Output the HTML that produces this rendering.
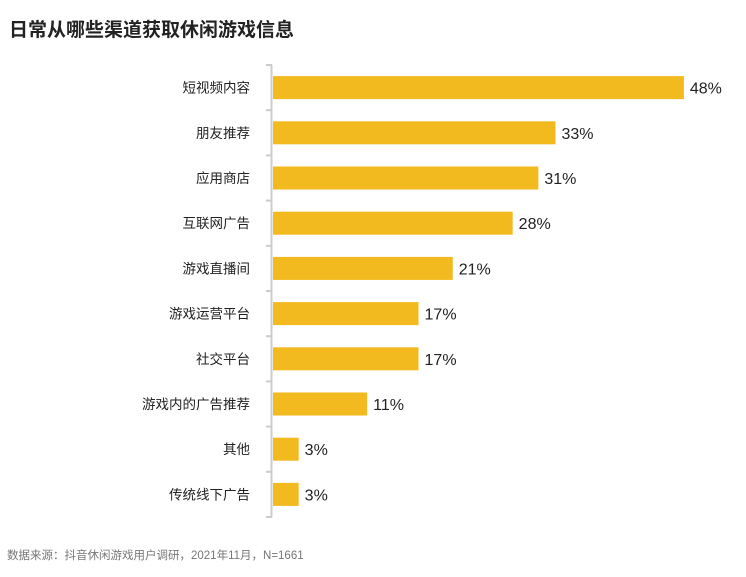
<!DOCTYPE html>
<html><head><meta charset="utf-8"><style>
body{margin:0;background:#fff;width:746px;height:572px;overflow:hidden;font-family:"Liberation Sans","Noto Sans CJK SC",sans-serif;}
</style></head><body>
<svg width="746" height="572" xmlns="http://www.w3.org/2000/svg">
<text x="9" y="36" font-size="19" font-weight="bold" fill="#222" font-family="Liberation Sans, Noto Sans CJK SC, sans-serif">日常从哪些渠道获取休闲游戏信息</text>
<g id="plot" font-family="Liberation Sans, Noto Sans CJK SC, sans-serif"></g>
<text x="7" y="559" font-size="11.5" fill="#777" font-family="Liberation Sans, Noto Sans CJK SC, sans-serif">数据来源：抖音休闲游戏用户调研，2021年11月，N=1661</text>
</svg>
<script>
const categories=["短视频内容","朋友推荐","应用商店","互联网广告","游戏直播间","游戏运营平台","社交平台","游戏内的广告推荐","其他","传统线下广告"];
const values=[48,33,31,28,21,17,17,11,3,3];
const NS="http://www.w3.org/2000/svg";
const plotG=document.getElementById('plot');
const x0=273,pxPer=8.56,yTop=65,step=45.2,barH=23;
const xScale=v=>x0+v*pxPer;
const yc=i=>yTop+step*(i+0.5);
function mk(t,a){const e=document.createElementNS(NS,t);for(const k in a)e.setAttribute(k,a[k]);plotG.appendChild(e);return e;}
const ax=mk('line',{x1:271.5,x2:271.5,y1:yTop,y2:yTop+step*categories.length,stroke:'#ccc','stroke-width':2});


for(let i=0;i<=categories.length;i++){
 const t=mk('line',{x1:266,x2:272,y1:yTop+step*i,y2:yTop+step*i,stroke:'#ccc','stroke-width':2});
 
 
}
categories.forEach((c,i)=>{
 const l=mk('text',{x:250,y:yc(i)+5,'text-anchor':'end','font-size':13.5,fill:'#222'});
 l.textContent=c;
 
 
 const b=mk('rect',{x:x0,y:yc(i)-barH/2,width:xScale(values[i])-x0,height:barH,fill:'#F2BA1E'});
 
 
 const v=mk('text',{x:xScale(values[i])+6,y:yc(i)+6,'font-size':16,fill:'#222'});
 v.textContent=values[i]+'%';
 
 
});
</script>
</body></html>
